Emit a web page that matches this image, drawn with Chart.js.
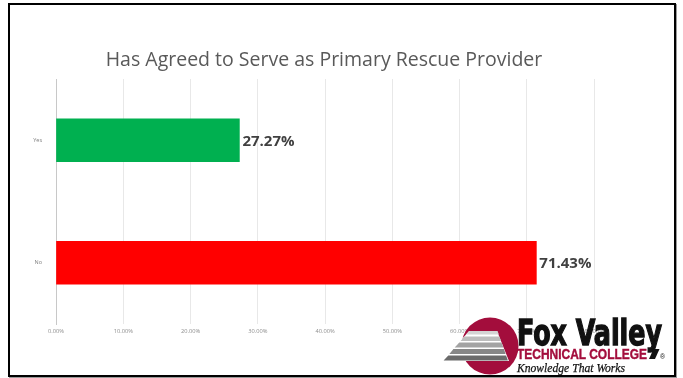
<!DOCTYPE html>
<html>
<head>
<meta charset="utf-8">
<script src="https://cdn.jsdelivr.net/npm/chart.js@4/dist/chart.umd.min.js"></script>
<style>
  html, body { margin: 0; padding: 0; background: #fff; }
  #wrap { position: relative; width: 683px; height: 378px; overflow: hidden; }
  #c { position: absolute; left: 0; top: 0; }
  #logo { position: absolute; left: 0; top: 0; pointer-events: none; }
  #frame {
    position: absolute; left: 8px; top: 3px; width: 668px; height: 374px;
    box-sizing: border-box; border: 2.5px solid #000; pointer-events: none;
    box-shadow: 1px 1px 0 #9a9a9a;
  }
</style>
</head>
<body>
<div id="wrap">
  <canvas id="c" width="683" height="378"></canvas>
  <svg id="logo" width="683" height="378" xmlns="http://www.w3.org/2000/svg">
    <!-- college emblem -->
    <circle cx="490" cy="346" r="28.5" fill="#a30d3c"/>
    <polygon points="469,331 443,361 509,361 497,331" fill="#fff"/>
    <polygon points="469.5,331 497.5,331 498.9,334.5 466.1,334.5" fill="#d4d4d4"/>
    <polygon points="464.4,336.5 499.4,336.5 501.0,341 460.6,341" fill="#bdbdbd"/>
    <polygon points="459.3,342.5 501.5,342.5 503.4,347.5 454.7,347.5" fill="#a3a3a3"/>
    <polygon points="453.4,349 503.9,349 505.6,354 449.4,354" fill="#878787"/>
    <polygon points="448.3,355.5 506.1,355.5 507.9,360.5 443.6,360.5" fill="#6b6b6b"/>
    <text x="517" y="345" font-family="'DejaVu Sans Condensed','Liberation Sans Narrow',sans-serif"
          font-weight="bold" font-size="35" fill="#111" stroke="#111" stroke-width="1.3"
          textLength="145" lengthAdjust="spacingAndGlyphs">Fox Valley</text>
    <text x="517" y="359" font-family="'Liberation Sans','Arial',sans-serif"
          font-weight="bold" font-size="14" fill="#a30d3c" stroke="#a30d3c" stroke-width="0.4"
          textLength="130" lengthAdjust="spacingAndGlyphs">TECHNICAL COLLEGE</text>
    <polygon points="649,359 653.5,349 659.5,349 655,359" fill="#111"/>
    <text x="660" y="359" font-family="'Liberation Sans',sans-serif" font-size="7" fill="#111">®</text>
    <text x="517" y="372" font-family="'Liberation Serif','Times New Roman',serif"
          font-style="italic" font-size="13" fill="#111" stroke="#111" stroke-width="0.25"
          textLength="108" lengthAdjust="spacingAndGlyphs">Knowledge That Works</text>
  </svg>
  <div id="frame"></div>
</div>
<script>
// Survey answers and their shares
const categories = ['Yes', 'No'];
const shares = [0.2727, 0.7143];
const barColors = ['#00b050', '#ff0000'];
const chartTitle = 'Has Agreed to Serve as Primary Rescue Provider';
const axisMax = 0.8;
const axisStep = 0.1;

const pct = v => (v * 100).toFixed(2) + '%';

// Chart heading, centred over the slide
const headingPlugin = {
  id: 'heading',
  afterDraw(chart) {
    const ctx = chart.ctx;
    ctx.save();
    ctx.font = '19.5px "Open Sans", sans-serif';
    ctx.fillStyle = '#595959';
    ctx.textAlign = 'center';
    ctx.textBaseline = 'middle';
    ctx.fillText(chartTitle, 324, 60);
    ctx.restore();
  }
};

// Value labels at the end of each bar
const valueLabels = {
  id: 'valueLabels',
  afterDatasetsDraw(chart) {
    const ctx = chart.ctx;
    const meta = chart.getDatasetMeta(0);
    ctx.save();
    ctx.font = 'bold 15px "Open Sans", sans-serif';
    ctx.fillStyle = '#404040';
    ctx.textAlign = 'left';
    ctx.textBaseline = 'middle';
    meta.data.forEach((bar, i) => {
      ctx.fillText(pct(chart.data.datasets[0].data[i]), bar.x + 3, bar.y + 1);
    });
    ctx.restore();
  }
};

new Chart(document.getElementById('c'), {
  type: 'bar',
  data: {
    labels: categories,
    datasets: [{
      data: shares,
      backgroundColor: barColors,
      borderWidth: 0,
      barThickness: 43
    }]
  },
  options: {
    indexAxis: 'y',
    responsive: false,
    animation: false,
    layout: { padding: { top: 79, right: 89, bottom: 0, left: 0 } },
    plugins: {
      legend: { display: false },
      title: { display: false },
      tooltip: { enabled: false }
    },
    scales: {
      x: {
        type: 'linear',
        min: 0,
        max: axisMax,
        ticks: {
          stepSize: axisStep,
          callback: v => pct(v),
          color: '#8c8c8c',
          font: { family: '"Open Sans", sans-serif', size: 5.7 },
          padding: 4,
          maxRotation: 0
        },
        grid: { color: '#e8e8e8', drawTicks: false },
        border: { display: false },
        afterFit(scale) { scale.height = 54; }
      },
      y: {
        ticks: {
          color: '#7f7f7f',
          font: { family: '"Open Sans", sans-serif', size: 5.5 },
          padding: 6
        },
        grid: { display: false },
        border: { display: true, color: '#c8c8c8', width: 1 },
        afterFit(scale) { scale.width = 56; }
      }
    }
  },
  plugins: [headingPlugin, valueLabels]
});
</script>
</body>
</html>
